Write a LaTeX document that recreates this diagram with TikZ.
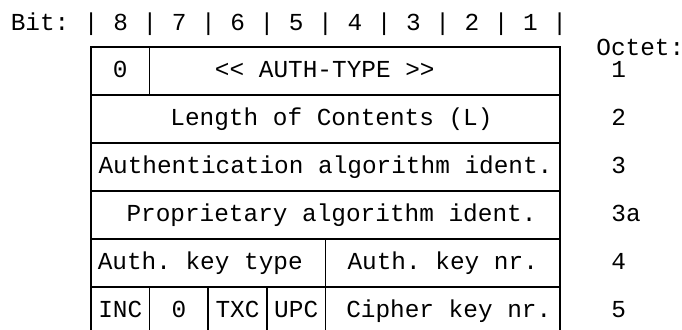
\documentclass[tikz,border=0pt]{standalone}
\usepackage{fontspec}
\setmonofont{Liberation Mono}
\newcommand{\octfont}{\fontsize{12.2pt}{14pt}\selectfont\ttfamily}

\begin{document}
\begin{tikzpicture}[x=0.5pt, y=-0.5pt,
	every node/.append style={font=\octfont},
	cell/.style={draw, rectangle, line width=0.8pt, inner sep=0pt,
		minimum height=24pt, minimum width=#1*29.3125pt,
		text height=8pt, text depth=2pt},
	plain/.style={anchor=base west, inner sep=0pt}]
	\useasboundingbox (0,0) rectangle (682,329);
	% bit numbering
	\node [plain] (bits) at (10.4,30) {Bit: | 8 | 7 | 6 | 5 | 4 | 3 | 2 | 1 |};
	\node [plain] (octet) at (596,55) {Octet:};
	% octet 1
	\node [cell=1] (bit8) at (120.31,71) {0};
	\node [cell=7] (authtype) at (354.81,71) {<< AUTH-TYPE >>\hspace*{30pt}};
	% octets 2, 3, 3a
	\node [cell=8] (length) at (325.5,119) {\hspace*{6pt}Length of Contents (L)};
	\node [cell=8] (algo) at (325.5,167) {Authentication algorithm ident.};
	\node [cell=8] (propalgo) at (325.5,215) {\hspace*{6pt}Proprietary algorithm ident.};
	% octet 4
	\node [cell=4] (keytype) at (208.25,263) {Auth. key type\hspace*{8pt}};
	\node [cell=4] (keynr) at (442.75,263) {Auth. key nr.};
	% octet 5
	\node [cell=1] (inc) at (120.31,311) {INC};
	\node [cell=1] (zero) at (178.94,311) {0};
	\node [cell=1] (txc) at (237.56,311) {TXC};
	\node [cell=1] (upc) at (296.19,311) {UPC};
	\node [cell=4] (ciphernr) at (442.75,311) {\hspace*{6pt}Cipher key nr.};
	% octet numbers
	\foreach \o/\y in {1/77, 2/125, 3/173, 3a/221, 4/269, 5/317}
		\node [plain] (oct\o) at (611,\y) {\o};
\end{tikzpicture}
\end{document}
